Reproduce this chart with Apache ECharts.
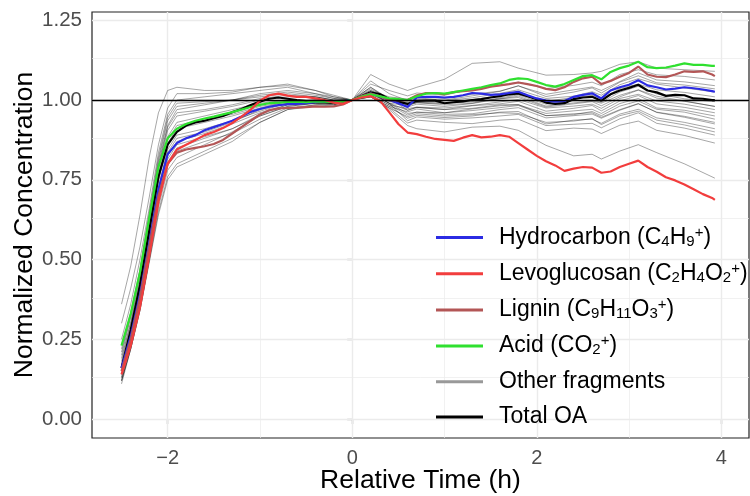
<!DOCTYPE html>
<html>
<head>
<meta charset="utf-8">
<script src="https://cdn.jsdelivr.net/npm/echarts@6/dist/echarts.min.js"></script>
<style>
  html, body { margin: 0; padding: 0; background: #fff; }
  #chart { width: 750px; height: 496px; }
</style>
</head>
<body>
<div id="chart"></div>
<script>
// relative time (h) for the highlighted fragments and total OA
var times = [-2.5, -2.4, -2.3, -2.2, -2.1, -2.0, -1.9, -1.8, -1.7, -1.6,
  -1.5, -1.4, -1.3, -1.2, -1.1, -1.0, -0.9, -0.8, -0.7, -0.6,
  -0.5, -0.4, -0.3, -0.2, -0.1, 0, 0.1, 0.2, 0.3, 0.4,
  0.5, 0.6, 0.7, 0.8, 0.9, 1.0, 1.1, 1.2, 1.3, 1.4,
  1.5, 1.6, 1.7, 1.8, 1.9, 2.0, 2.1, 2.2, 2.3, 2.4,
  2.5, 2.6, 2.7, 2.8, 2.9, 3.0, 3.1, 3.2, 3.3, 3.4,
  3.5, 3.6, 3.7, 3.8, 3.9, 3.93];

var totalOA = [0.16, 0.28, 0.42, 0.59, 0.76, 0.86, 0.90, 0.92, 0.93, 0.935,
  0.943, 0.95, 0.962, 0.972, 0.984, 0.995, 1.004, 1.008, 1.004, 1.0,
  0.997, 0.996, 0.994, 0.992, 0.994, 1.0, 1.012, 1.024, 1.018, 1.003,
  0.995, 0.988, 0.997, 0.998, 0.998, 0.99, 0.993, 0.996, 1.0, 1.003,
  1.008, 1.012, 1.018, 1.021, 1.012, 1.003, 0.992, 0.988, 0.99, 1.003,
  1.008, 1.01, 0.998, 1.018, 1.03, 1.038, 1.048, 1.03, 1.024, 1.013,
  1.016, 1.015, 1.005, 1.004, 1.0, 1.0];

var hydrocarbon = [0.16, 0.26, 0.39, 0.55, 0.72, 0.83, 0.865, 0.88, 0.89, 0.905,
  0.915, 0.925, 0.935, 0.948, 0.963, 0.972, 0.979, 0.984, 0.987, 0.988,
  0.99, 0.993, 0.996, 0.997, 0.996, 1.0, 1.01, 1.02, 1.012, 1.0,
  0.99, 0.978, 1.008, 1.01, 1.01, 1.008, 1.01, 1.015, 1.022, 1.02,
  1.016, 1.018, 1.022, 1.026, 1.015, 1.005, 0.998, 0.995, 0.997, 1.01,
  1.016, 1.021, 1.005, 1.03, 1.04, 1.048, 1.062, 1.046, 1.04, 1.033,
  1.036, 1.04, 1.037, 1.033, 1.028, 1.026];

var levoglucosan = [0.14, 0.23, 0.35, 0.51, 0.68, 0.80, 0.845, 0.86, 0.875, 0.89,
  0.90, 0.912, 0.928, 0.948, 0.97, 0.998, 1.015, 1.02, 1.014, 1.01,
  1.01, 1.005, 1.0, 0.992, 0.988, 1.0, 1.008, 1.012, 0.998, 0.962,
  0.925, 0.898, 0.893, 0.885, 0.878, 0.875, 0.872, 0.882, 0.89, 0.883,
  0.885, 0.89, 0.885, 0.865, 0.845, 0.825, 0.808, 0.795, 0.778, 0.785,
  0.79, 0.788, 0.772, 0.776, 0.79, 0.80, 0.81, 0.79, 0.775, 0.758,
  0.748, 0.735, 0.72, 0.705, 0.693, 0.687];

var lignin = [0.15, 0.25, 0.38, 0.54, 0.70, 0.80, 0.835, 0.845, 0.85, 0.855,
  0.862, 0.875, 0.895, 0.915, 0.935, 0.955, 0.968, 0.974, 0.975, 0.976,
  0.978, 0.98, 0.979, 0.98, 0.986, 1.0, 1.012, 1.02, 1.012, 1.0,
  1.0, 1.0, 1.015, 1.022, 1.022, 1.018, 1.025, 1.028, 1.03, 1.035,
  1.042, 1.046, 1.05, 1.055, 1.05, 1.044, 1.035, 1.031, 1.04, 1.057,
  1.068, 1.073, 1.05, 1.06, 1.073, 1.085, 1.105, 1.08, 1.073, 1.072,
  1.08, 1.09, 1.088, 1.09, 1.08, 1.075];

var acid = [0.23, 0.33, 0.46, 0.63, 0.79, 0.88, 0.91, 0.925, 0.935, 0.942,
  0.948, 0.955, 0.962, 0.97, 0.978, 0.985, 0.99, 0.992, 0.994, 0.995,
  0.993, 0.996, 0.995, 0.993, 0.995, 1.0, 1.01, 1.018, 1.012, 1.005,
  1.003, 1.0, 1.012, 1.02, 1.022, 1.02, 1.025, 1.03, 1.035, 1.04,
  1.047, 1.052, 1.063, 1.068, 1.066, 1.057, 1.047, 1.042, 1.05, 1.063,
  1.075, 1.078, 1.065, 1.088, 1.1, 1.108, 1.12, 1.103, 1.1, 1.102,
  1.108, 1.115, 1.11, 1.11, 1.107, 1.107];

// coarser time axis for the other fragments
var grayTimes = [-2.5, -2.4, -2.3, -2.2, -2.1, -2.0, -1.9, -1.6, -1.3, -1.0, -0.7, -0.4, -0.2, 0,
  0.2, 0.4, 0.6, 0.7, 1.0, 1.3, 1.6, 1.8, 2.1, 2.4, 2.6, 2.7, 2.9, 3.1, 3.3, 3.6, 3.93];

var otherFragments = [
  [0.36,0.48,0.64,0.82,0.96,1.03,1.04, 1.03,1.03,1.04,1.05,1.03,1.01,1.0, 1.08,1.05,1.03,1.04,1.065,1.115,1.12,1.1,1.078,1.08,1.085,1.09,1.112,1.12,1.1,1.095,1.09],
  [0.12,0.22,0.34,0.49,0.64,0.75,0.79, 0.83,0.87,0.93,0.97,0.98,0.985,1.0, 1.02,0.97,0.92,0.91,0.90,0.915,0.918,0.905,0.858,0.825,0.83,0.815,0.84,0.86,0.835,0.80,0.755],
  [0.20,0.32,0.45,0.62,0.80,0.92,0.97, 0.985,1.0,1.02,1.03,1.02,1.01,1.0, 1.05,1.03,1.013,1.022,1.015,1.035,1.045,1.056,1.036,1.046,1.056,1.045,1.08,1.095,1.079,1.074,1.063],
  [0.13,0.24,0.38,0.54,0.715,0.835,0.88, 0.90,0.93,0.97,0.99,0.995,0.995,1.0, 1.03,1.01,1.003,1.012,1.005,1.018,1.028,1.044,1.018,1.032,1.041,1.03,1.058,1.085,1.063,1.057,1.045],
  [0.25,0.36,0.50,0.66,0.835,0.955,1.0, 1.01,1.02,1.03,1.04,1.02,1.005,1.0, 1.04,1.0,0.993,1.002,0.998,1.007,1.021,1.032,1.005,1.012,1.026,1.015,1.048,1.067,1.05,1.038,1.025],
  [0.16,0.27,0.41,0.58,0.75,0.875,0.92, 0.94,0.955,0.98,0.995,1.0,0.995,1.0, 1.02,0.995,0.988,0.992,0.99,1.001,1.014,1.018,0.996,1.008,1.015,1.004,1.036,1.05,1.032,1.024,1.01],
  [0.11,0.22,0.34,0.50,0.665,0.78,0.82, 0.86,0.90,0.95,0.98,0.99,0.99,1.0, 1.025,0.99,0.983,0.992,0.985,0.99,1.007,1.016,0.987,0.998,1.0,0.993,1.025,1.043,1.019,1.004,0.995],
  [0.18,0.30,0.43,0.60,0.78,0.905,0.95, 0.965,0.98,1.0,1.01,1.01,1.0,1.0, 1.03,1.0,0.978,0.987,0.98,0.989,1.004,1.008,0.978,0.988,0.995,0.982,1.01,1.031,1.006,0.996,0.98],
  [0.14,0.25,0.38,0.54,0.70,0.815,0.86, 0.885,0.91,0.955,0.985,0.99,0.99,1.0, 1.015,0.985,0.973,0.978,0.975,0.983,0.994,1.002,0.975,0.981,0.987,0.974,1.005,1.018,0.997,0.987,0.97],
  [0.22,0.335,0.47,0.645,0.82,0.945,0.99, 0.995,1.0,1.01,1.02,1.01,1.0,1.0, 1.04,1.005,0.968,0.977,0.97,0.982,0.988,0.996,0.965,0.974,0.983,0.966,0.997,1.014,0.988,0.977,0.96],
  [0.12,0.23,0.36,0.515,0.68,0.795,0.84, 0.87,0.895,0.94,0.975,0.985,0.99,1.0, 1.01,0.98,0.963,0.972,0.96,0.972,0.982,0.985,0.958,0.966,0.971,0.958,0.989,1.005,0.975,0.968,0.95],
  [0.17,0.285,0.42,0.59,0.765,0.885,0.93, 0.95,0.97,0.99,1.0,1.0,0.995,1.0, 1.02,0.99,0.958,0.962,0.96,0.967,0.976,0.983,0.951,0.954,0.964,0.951,0.981,0.997,0.971,0.962,0.94],
  [0.15,0.26,0.395,0.555,0.725,0.845,0.89, 0.91,0.935,0.965,0.99,0.995,0.99,1.0, 1.015,0.985,0.953,0.962,0.955,0.957,0.97,0.976,0.944,0.951,0.956,0.943,0.968,0.988,0.962,0.949,0.93],
  [0.30,0.41,0.54,0.695,0.86,0.975,1.02, 1.02,1.025,1.04,1.045,1.03,1.015,1.0, 1.06,1.02,0.998,1.007,1.0,1.013,1.027,1.045,1.011,1.025,1.038,1.022,1.056,1.076,1.054,1.047,1.035],
  [0.13,0.24,0.37,0.525,0.69,0.805,0.85, 0.88,0.91,0.95,0.98,0.99,0.99,1.0, 1.01,0.98,0.943,0.952,0.945,0.95,0.962,0.964,0.925,0.937,0.94,0.927,0.956,0.971,0.944,0.93,0.91],
  [0.19,0.305,0.445,0.615,0.79,0.915,0.96, 0.97,0.985,1.005,1.015,1.01,1.0,1.0, 1.025,0.99,0.935,0.947,0.94,0.944,0.95,0.955,0.92,0.924,0.927,0.913,0.941,0.96,0.927,0.912,0.89],
  [0.14,0.25,0.38,0.54,0.71,0.825,0.87, 0.895,0.925,0.96,0.985,0.99,0.985,1.0, 1.01,0.975,0.928,0.937,0.93,0.926,0.937,0.94,0.904,0.912,0.909,0.895,0.921,0.934,0.905,0.889,0.865],
  [0.21,0.325,0.465,0.635,0.81,0.935,0.98, 0.99,1.0,1.015,1.025,1.015,1.005,1.0, 1.035,1.005,0.983,0.992,0.99,0.994,1.004,1.012,0.981,0.991,0.997,0.99,1.015,1.032,1.012,0.997,0.98],
  [0.16,0.27,0.41,0.57,0.745,0.865,0.91, 0.93,0.95,0.975,0.995,1.0,0.995,1.0, 1.02,0.99,0.968,0.977,0.97,0.974,0.985,0.986,0.951,0.957,0.96,0.946,0.97,0.989,0.961,0.946,0.925],
  [0.12,0.22,0.345,0.495,0.65,0.76,0.80, 0.84,0.88,0.93,0.97,0.985,0.985,1.0, 1.01,0.975,0.948,0.957,0.95,0.954,0.96,0.958,0.93,0.934,0.942,0.923,0.951,0.965,0.937,0.922,0.90]
];

var xTicks = [-2, 0, 2, 4];
var yTicks = [0, 0.25, 0.5, 0.75, 1, 1.25];
var xMinor = [-1, 1, 3];
var yMinor = [0.125, 0.375, 0.625, 0.875, 1.125];

var FONT = "'Liberation Sans', Arial, Helvetica, sans-serif";

function pairs (xs, ys) {
  return xs.map(function (x, i) { return [x, ys[i]]; });
}

function lineSeries (name, values, color, z) {
  return {
    name: name,
    type: 'line',
    data: pairs(times, values),
    showSymbol: false,
    symbol: 'none',
    color: color,
    lineStyle: { color: color, width: 2.2 },
    z: z,
    silent: true
  };
}

var series = [];

// gridlines (major + minor), kept behind the data
var gridLines = [];
xTicks.forEach(function (v) { gridLines.push({ xAxis: v, lineStyle: { width: 1.4 } }); });
yTicks.forEach(function (v) { gridLines.push({ yAxis: v, lineStyle: { width: 1.4 } }); });
xMinor.forEach(function (v) { gridLines.push({ xAxis: v, lineStyle: { width: 0.7 } }); });
yMinor.forEach(function (v) { gridLines.push({ yAxis: v, lineStyle: { width: 0.7 } }); });
series.push({
  name: 'grid',
  type: 'line',
  data: [],
  z: 1,
  silent: true,
  markLine: {
    z: 1,
    silent: true,
    animation: false,
    symbol: ['none', 'none'],
    label: { show: false },
    lineStyle: { color: '#ebebeb', type: 'solid' },
    data: gridLines
  }
});

otherFragments.forEach(function (vals) {
  series.push({
    name: 'Other fragments',
    type: 'line',
    data: pairs(grayTimes, vals),
    showSymbol: false,
    symbol: 'none',
    color: 'rgba(0,0,0,0.5)',
    lineStyle: { color: 'rgba(0,0,0,0.5)', width: 0.7 },
    z: 2,
    silent: true
  });
});

series.push(lineSeries('Total OA', totalOA, '#000000', 3));
series.push(lineSeries('Hydrocarbon', hydrocarbon, '#2b2be3', 4));
series.push(lineSeries('Lignin', lignin, '#b35656', 4));
series.push(lineSeries('Acid', acid, '#2fe02f', 4));
series.push(lineSeries('Levoglucosan', levoglucosan, '#f23d3d', 4));

// reference line at 1
series.push({
  name: 'ref',
  type: 'line',
  data: [],
  z: 6,
  silent: true,
  markLine: {
    z: 6,
    silent: true,
    animation: false,
    symbol: ['none', 'none'],
    label: { show: false },
    lineStyle: { color: '#000', width: 1.3, type: 'solid' },
    data: [{ yAxis: 1 }]
  }
});

var legendText = {
  'Hydrocarbon': 'Hydrocarbon (C{sub|4}H{sub|9}{sup|+})',
  'Levoglucosan': 'Levoglucosan (C{sub|2}H{sub|4}O{sub|2}{sup|+})',
  'Lignin': 'Lignin (C{sub|9}H{sub|11}O{sub|3}{sup|+})',
  'Acid': 'Acid (CO{sub|2}{sup|+})',
  'Other fragments': 'Other fragments',
  'Total OA': 'Total OA'
};

var option = {
  animation: false,
  backgroundColor: '#fff',
  grid: {
    left: 92, right: 1, top: 12, bottom: 58,
    outerBoundsMode: 'none',
    containLabel: false,
    show: true, borderColor: '#222', borderWidth: 1.2, backgroundColor: 'transparent'
  },
  xAxis: {
    type: 'value',
    min: -2.82, max: 4.30,
    name: 'Relative Time (h)',
    nameLocation: 'middle',
    nameGap: 29,
    nameMoveOverlap: false,
    nameTextStyle: { fontFamily: FONT, fontSize: 26.5, color: '#000' },
    axisLine: { show: false },
    axisTick: { show: true, customValues: xTicks, length: 5, lineStyle: { color: '#333', width: 1.2 } },
    axisLabel: {
      customValues: xTicks, margin: 10, fontFamily: FONT, fontSize: 20, color: '#4d4d4d',
      formatter: function (v) { return v < 0 ? '\u2212' + (-v) : String(v); }
    },
    splitLine: { show: false }
  },
  yAxis: {
    type: 'value',
    min: -0.0596, max: 1.276,
    name: 'Normalized Concentration',
    nameLocation: 'middle',
    nameRotate: 90,
    nameGap: 54,
    nameMoveOverlap: false,
    nameTextStyle: { fontFamily: FONT, fontSize: 26.5, color: '#000' },
    axisLine: { show: false },
    axisTick: { show: true, customValues: yTicks, length: 5, lineStyle: { color: '#333', width: 1.2 } },
    axisLabel: {
      customValues: yTicks, margin: 10, fontFamily: FONT, fontSize: 20.5, color: '#4d4d4d',
      formatter: function (v) { return v.toFixed(2); }
    },
    splitLine: { show: false }
  },
  legend: {
    orient: 'vertical',
    left: 436, top: 225,
    padding: 0,
    itemWidth: 47, itemHeight: 3,
    itemGap: 11.2,
    icon: 'rect',
    data: [
      { name: 'Hydrocarbon', itemStyle: { color: '#2b2be3' } },
      { name: 'Levoglucosan', itemStyle: { color: '#f23d3d' } },
      { name: 'Lignin', itemStyle: { color: '#b35656' } },
      { name: 'Acid', itemStyle: { color: '#2fe02f' } },
      { name: 'Other fragments', itemStyle: { color: '#999999' } },
      { name: 'Total OA', itemStyle: { color: '#000000' } }
    ],
    formatter: function (name) { return legendText[name]; },
    textStyle: {
      fontFamily: FONT, fontSize: 23, color: '#000', lineHeight: 24,
      padding: [0, 0, 0, 11],
      rich: {
        sub: { fontFamily: FONT, fontSize: 15, color: '#000', lineHeight: 24, padding: [8, 0, 0, 0] },
        sup: { fontFamily: FONT, fontSize: 15, color: '#000', lineHeight: 24, padding: [0, 0, 10, 0] }
      }
    }
  },
  series: series
};

var chart = echarts.init(document.getElementById('chart'));
chart.setOption(option);
</script>
</body>
</html>
